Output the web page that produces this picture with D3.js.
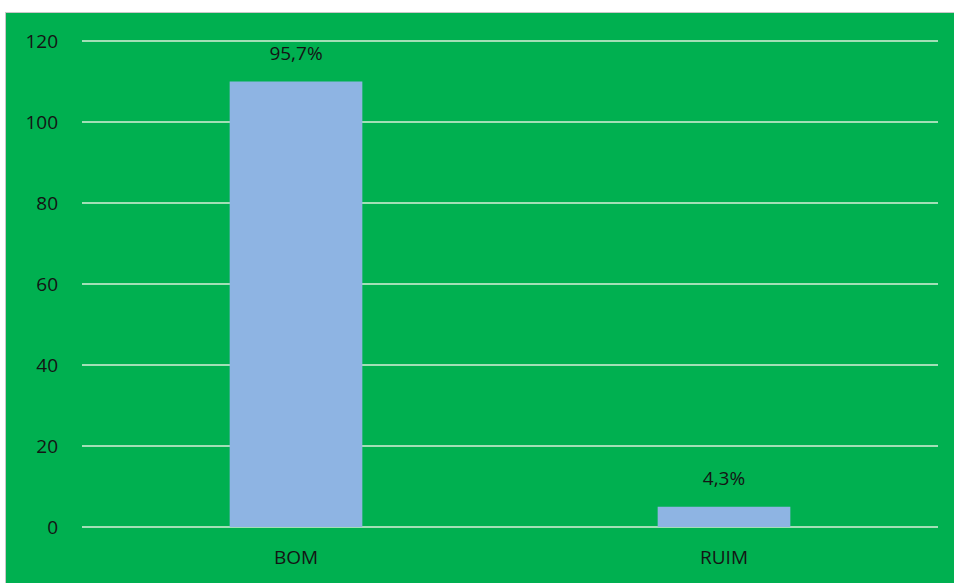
<!DOCTYPE html>
<html>
<head>
<meta charset="utf-8">
<script src="https://cdn.jsdelivr.net/npm/d3@7"></script>
<style>
  body { margin: 0; background: #fff; }
  svg text { font-family: "Open Sans", "Liberation Sans", sans-serif; fill: #141414; }
</style>
</head>
<body>
<div id="chart"></div>
<script>
// chart data
var categories = ['BOM', 'RUIM']
var values = [110, 5]
var pctLabels = ['95,7%', '4,3%']
var yTicks = [0, 20, 40, 60, 80, 100, 120]

var wid = 954, hgt = 583
var svg = d3.select('#chart').append('svg')
  .attr('width', wid).attr('height', hgt)

// green chart area with a thin gray edge
svg.append('rect')
  .attr('x', 5.5).attr('y', 12.5)
  .attr('width', wid).attr('height', hgt)
  .style('fill', '#00b050')
  .style('stroke', '#c8c8c8').style('stroke-width', 1)

var x = d3.scaleBand()
  .domain(categories)
  .range([82, 938])
  .paddingInner(0.69)
  .paddingOuter(0.345)

var y = d3.scaleLinear()
  .domain([0, 120])
  .range([527, 41])

// gridlines
svg.append('g').attr('id', 'grid')
  .selectAll('line').data(yTicks).enter().append('line')
  .attr('x1', 82).attr('x2', 938)
  .attr('y1', function(d){ return y(d) }).attr('y2', function(d){ return y(d) })
  .style('stroke', '#d9efd9').style('stroke-width', 1.5)

// y labels
var yAxis = svg.append('g')
  .attr('transform', 'translate(58,0)')
  .call(d3.axisLeft(y).tickValues(yTicks).tickSize(0).tickPadding(0))
yAxis.select('.domain').remove()
yAxis.selectAll('text').attr('dy', '0.36em')
  .style('font-size', '19px').style('font-family', null)

// bars
svg.append('g').selectAll('rect').data(values).enter().append('rect')
  .attr('x', function(d, i){ return x(categories[i]) })
  .attr('width', x.bandwidth())
  .attr('y', function(d){ return y(d) })
  .attr('height', function(d){ return y(0) - y(d) })
  .style('fill', '#8eb4e3')

// value labels
svg.append('g').selectAll('text').data(values).enter().append('text')
  .attr('x', function(d, i){ return x(categories[i]) + x.bandwidth() / 2 })
  .attr('y', function(d){ return y(d) - 22 })
  .attr('text-anchor', 'middle')
  .style('font-size', '19px')
  .text(function(d, i){ return pctLabels[i] })

// category labels
var xAxis = svg.append('g')
  .attr('transform', 'translate(0,' + y(0) + ')')
  .call(d3.axisBottom(x).tickSize(0).tickPadding(0))
xAxis.select('.domain').remove()
xAxis.selectAll('text').attr('y', 37).attr('dy', null)
  .style('font-size', '19px').style('font-family', null)
</script>
</body>
</html>
